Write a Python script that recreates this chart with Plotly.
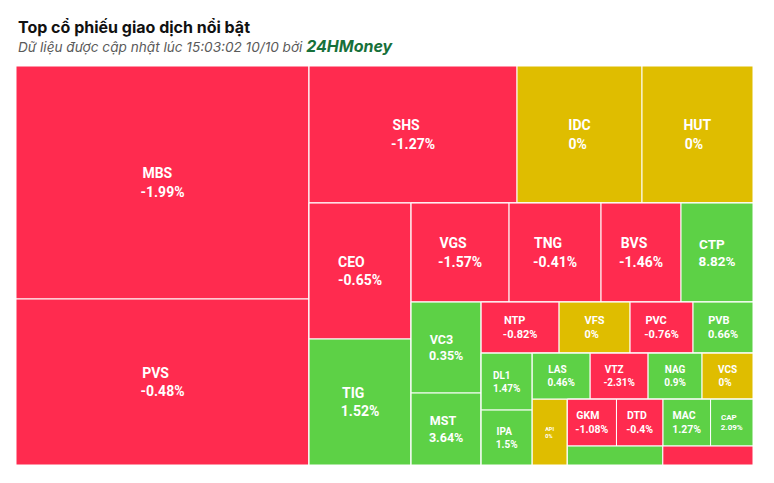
import plotly.graph_objects as go

# ---- data ----
tickers = ["MBS", "PVS", "SHS", "IDC", "HUT", "CEO", "TIG", "VGS", "TNG", "BVS", "CTP",
           "VC3", "MST", "NTP", "VFS", "PVC", "PVB", "DL1", "IPA", "LAS", "VTZ", "NAG", "VCS",
           "API", "GKM", "DTD", "MAC", "CAP", "_x1", "_x2"]
changes = [-1.99, -0.48, -1.27, 0, 0, -0.65, 1.52, -1.57, -0.41, -1.46, 8.82,
           0.35, 3.64, -0.82, 0, -0.76, 0.66, 1.47, 1.5, 0.46, -2.31, 0.9, 0,
           0, -1.08, -0.4, 1.27, 2.09, None, None]
# relative traded value (estimated from tile areas)
values = [68269, 48638, 28496, 17125, 15207, 13872, 12852, 9702, 9108, 7920, 7128,
          6370, 5040, 3978, 3621, 3213, 3060, 2907, 2805, 2668, 2668, 2484, 2346,
          2310, 2302, 2180, 2227, 1987, 1811, 1710]
# unlabeled tiles: only their direction is visible
hidden_trend = {"_x1": 1, "_x2": -1}

# grouping that reproduces the tile arrangement (alternating rows / columns)
layout_tree = [
    ["MBS", "PVS"],
    [["SHS", "IDC", "HUT"],
     [["CEO", "TIG"],
      [["VGS", "TNG", "BVS", "CTP"],
       [["VC3", "MST"],
        [["NTP", "VFS", "PVC", "PVB"],
         [["DL1", "IPA"],
          [["LAS", "VTZ", "NAG", "VCS"],
           ["API",
            [["GKM", "DTD", "MAC", "CAP"],
             ["_x1", "_x2"]]]]]]]]]],
]

# ---- styles ----
font_sizes = [14, 14, 14, 14, 14, 14, 14, 14, 14, 14, 13.5,
              12.5, 12.5, 11, 11, 11, 11, 10, 10, 10, 10, 10, 10,
              5.5, 10.5, 10.5, 10.5, 8]
RED, GREEN, YELLOW = "#ff2b4f", "#5dd146", "#dfbd00"

# approximate Roboto Bold advance widths (em) used to left-align the two lines
_W = {"A": 0.67, "B": 0.64, "C": 0.65, "D": 0.65, "E": 0.57, "F": 0.55, "G": 0.68,
      "H": 0.71, "I": 0.29, "K": 0.64, "L": 0.54, "M": 0.87, "N": 0.71, "P": 0.64,
      "S": 0.61, "T": 0.61, "V": 0.65, "Z": 0.60, "-": 0.28, ".": 0.27, "%": 0.73}
NBSP = 0.248


def text_w(s):
    return sum(_W.get(ch, 0.562) for ch in s)


def left_block(a, b):
    wa, wb = text_w(a), text_w(b)
    if wa < wb:
        a = a + "\u00a0" * round((wb - wa) / NBSP)
    else:
        b = b + "\u00a0" * round((wa - wb) / NBSP)
    return f"<b>{a}</b><br><b>{b}</b>"


def color_for(t, c):
    if c is None:
        c = hidden_trend.get(t, 0)
    return GREEN if c > 0 else (RED if c < 0 else YELLOW)


ids, labels, parents, vals, texts, colors, sizes = [], [], [], [], [], [], []


def build(node, parent_id):
    if isinstance(node, str):
        i = tickers.index(node)
        c = changes[i]
        ids.append(node)
        labels.append(node if not node.startswith("_") else "")
        parents.append(parent_id)
        vals.append(values[i])
        texts.append("" if c is None else left_block(node, f"{c:g}%"))
        colors.append(color_for(node, c))
        sizes.append(font_sizes[i] if i < len(font_sizes) else 8)
        return values[i]
    gid = f"grp{len(ids)}"
    k = len(ids)
    ids.append(gid)
    labels.append("")
    parents.append(parent_id)
    vals.append(0)
    texts.append("")
    colors.append("rgba(255,255,255,0)")
    sizes.append(10)
    total = sum(build(ch, gid) for ch in node)
    vals[k] = total
    return total


build(layout_tree, "")

fig = go.Figure(go.Treemap(
    ids=ids, labels=labels, parents=parents, values=vals,
    branchvalues="total", sort=False,
    text=texts, textinfo="text", textposition="middle center",
    textfont=dict(family="Roboto, Arial, sans-serif", color="white", size=sizes),
    marker=dict(colors=colors, line=dict(color="white", width=1),
                pad=dict(t=0, l=0, r=0, b=0), depthfade=False),
    tiling=dict(packing="slice-dice", pad=0),
    pathbar=dict(visible=False),
    hoverinfo="skip",
))

fig.update_layout(
    width=766, height=475,
    margin=dict(l=8, r=21, t=58, b=18),
    paper_bgcolor="white",
    plot_bgcolor="white",
    annotations=[
        dict(text="<b>Top cổ phiếu giao dịch nổi bật</b>",
             xref="paper", yref="paper", x=0, y=(465 - 27) / 399,
             xanchor="left", yanchor="middle", showarrow=False,
             font=dict(family="Inter, Roboto, sans-serif", size=16, color="#111111")),
        dict(text="<i>Dữ liệu được cập nhật lúc 15:03:02 10/10 bởi </i>"
                  "<span style='color:#17703a;font-size:16px'><b><i>24HMoney</i></b></span>",
             xref="paper", yref="paper", x=0, y=(465 - 46) / 399,
             xanchor="left", yanchor="middle", showarrow=False,
             font=dict(family="Inter, Roboto, sans-serif", size=13.6, color="#5a5a5a")),
    ],
)

fig.write_html("out.html")
